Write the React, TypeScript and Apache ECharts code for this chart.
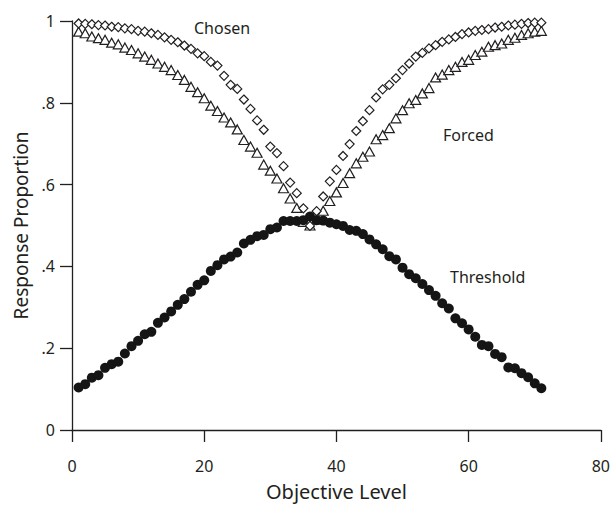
import React, { useEffect, useRef } from "react";
import * as echarts from "echarts";

const levels: number[] = Array.from({ length: 71 }, (_, i) => i + 1);

const chosen: number[] = [
  0.994, 0.993, 0.992, 0.99, 0.989, 0.986, 0.985, 0.982, 0.98, 0.976,
  0.974, 0.97, 0.966, 0.96, 0.954, 0.948, 0.94, 0.932, 0.921, 0.914,
  0.9, 0.891, 0.866, 0.844, 0.834, 0.808, 0.785, 0.757, 0.734, 0.693,
  0.677, 0.645, 0.605, 0.579, 0.542, 0.499, 0.535, 0.571, 0.608, 0.636,
  0.67, 0.699, 0.731, 0.755, 0.782, 0.813, 0.833, 0.844, 0.86, 0.88,
  0.896, 0.913, 0.922, 0.933, 0.941, 0.949, 0.955, 0.961, 0.968, 0.972,
  0.976, 0.978, 0.98, 0.984, 0.986, 0.989, 0.991, 0.993, 0.995, 0.996,
  0.996,
];

const forced: number[] = [
  0.974, 0.97, 0.962, 0.958, 0.954, 0.947, 0.943, 0.935, 0.929, 0.921,
  0.913, 0.905, 0.896, 0.888, 0.88, 0.868, 0.856, 0.839, 0.826, 0.811,
  0.793, 0.78, 0.764, 0.752, 0.735, 0.709, 0.693, 0.678, 0.649, 0.634,
  0.615, 0.591, 0.566, 0.543, 0.509, 0.5, 0.514, 0.536, 0.56, 0.581,
  0.604, 0.628, 0.652, 0.668, 0.681, 0.711, 0.721, 0.738, 0.762, 0.782,
  0.799, 0.807, 0.823, 0.836, 0.862, 0.869, 0.88, 0.888, 0.9, 0.905,
  0.917, 0.925, 0.937, 0.941, 0.945, 0.954, 0.959, 0.966, 0.97, 0.974,
  0.976,
];

const threshold: number[] = [
  0.104, 0.112, 0.128, 0.134, 0.152, 0.161, 0.167, 0.187, 0.205, 0.218,
  0.234, 0.24, 0.262, 0.275, 0.29, 0.306, 0.32, 0.338, 0.355, 0.366,
  0.389, 0.403, 0.417, 0.424, 0.434, 0.456, 0.465, 0.474, 0.477, 0.491,
  0.495, 0.511, 0.511, 0.511, 0.513, 0.522, 0.513, 0.512, 0.507, 0.503,
  0.499, 0.489, 0.487, 0.479, 0.466, 0.454, 0.442, 0.425, 0.417, 0.397,
  0.381, 0.371, 0.357, 0.342, 0.328, 0.31, 0.297, 0.273, 0.261, 0.246,
  0.228, 0.208, 0.205, 0.186, 0.178, 0.153, 0.151, 0.139, 0.129, 0.114,
  0.102,
];

const seriesNames = ["Chosen", "Forced", "Threshold"];

const INK = "#231f20";
const FONT = "'Noto Sans', 'Open Sans', sans-serif";

const pairs = (ys: number[]) => levels.map((x, i) => [x, ys[i]]);

export default function App() {
  const ref = useRef<HTMLDivElement>(null);

  useEffect(() => {
    if (!ref.current) return;
    const chart = echarts.init(ref.current, null, { renderer: "svg" });
    const option: any = {
      animation: false,
      backgroundColor: "#ffffff",
      textStyle: { fontFamily: FONT, color: INK },
      grid: { left: 72, right: 9, top: 21, bottom: 76, containLabel: false },
      xAxis: {
        type: "value",
        min: 0,
        max: 80,
        interval: 20,
        name: "Objective Level",
        nameLocation: "middle",
        nameGap: 51,
        nameTextStyle: { fontSize: 20, color: INK, fontFamily: FONT },
        axisLine: { show: true, onZero: false, lineStyle: { color: INK, width: 1.3 } },
        axisTick: { show: true, length: 12, lineStyle: { color: INK, width: 1.3 } },
        axisLabel: { fontSize: 16, color: INK, margin: 28, fontFamily: FONT },
        splitLine: { show: false },
      },
      yAxis: {
        type: "value",
        min: 0,
        max: 1,
        interval: 0.2,
        name: "Response Proportion",
        nameLocation: "middle",
        nameGap: 42,
        nameTextStyle: { fontSize: 19, color: INK, fontFamily: FONT },
        axisLine: { show: true, onZero: false, lineStyle: { color: INK, width: 1.3 } },
        axisTick: { show: true, length: 12, lineStyle: { color: INK, width: 1.3 } },
        axisLabel: {
          fontSize: 16,
          color: INK,
          margin: 17,
          fontFamily: FONT,
          formatter: (v: number) => {
            if (Math.abs(v) < 1e-9) return "0";
            if (Math.abs(v - 1) < 1e-9) return "1";
            return "." + Math.round(v * 10);
          },
        },
        splitLine: { show: false },
      },
      series: [
        {
          name: seriesNames[1],
          type: "scatter",
          data: pairs(forced),
          symbol: "triangle",
          symbolSize: [10, 9],
          itemStyle: { color: "#ffffff", borderColor: INK, borderWidth: 1.2, opacity: 1 },
          z: 2,
        },
        {
          name: seriesNames[0],
          type: "scatter",
          data: pairs(chosen),
          symbol: "diamond",
          symbolSize: [9, 9],
          itemStyle: { color: "#ffffff", borderColor: INK, borderWidth: 1.2, opacity: 1 },
          z: 3,
        },
        {
          name: seriesNames[2],
          type: "scatter",
          data: pairs(threshold),
          symbol: "circle",
          symbolSize: 10,
          itemStyle: { color: "#151515", borderWidth: 0, opacity: 1 },
          z: 4,
        },
      ],
      graphic: [
        {
          type: "text",
          left: 194,
          top: 20,
          style: { text: seriesNames[0], fontSize: 16, fill: INK, fontFamily: FONT },
        },
        {
          type: "text",
          left: 443,
          top: 127,
          style: { text: seriesNames[1], fontSize: 16, fill: INK, fontFamily: FONT },
        },
        {
          type: "text",
          left: 450,
          top: 269,
          style: { text: seriesNames[2], fontSize: 16, fill: INK, fontFamily: FONT },
        },
      ],
    };
    chart.setOption(option);
    return () => chart.dispose();
  }, []);

  return (
    <div
      ref={ref}
      style={{ position: "fixed", left: 0, top: 0, width: 613, height: 506, background: "#fff" }}
    />
  );
}
